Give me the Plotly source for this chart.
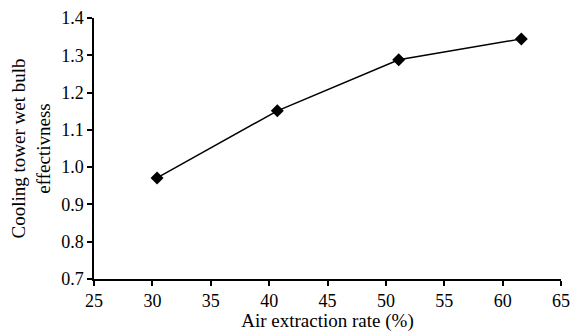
import plotly.graph_objects as go

extraction_rate = [30.4, 40.7, 51.1, 61.6]
effectiveness = [0.971, 1.151, 1.288, 1.344]
x_ticks = [25, 30, 35, 40, 45, 50, 55, 60, 65]
y_ticks = [0.7, 0.8, 0.9, 1.0, 1.1, 1.2, 1.3, 1.4]

font_family = "Liberation Serif, Times New Roman, serif"

fig = go.Figure()
fig.add_trace(go.Scatter(
    x=extraction_rate, y=effectiveness, mode="lines+markers",
    line=dict(color="black", width=1.5),
    marker=dict(symbol="diamond", size=10, color="black"),
    showlegend=False,
))

# page body has an 8px default margin, so the figure is sized to fit inside the window
fig.update_layout(
    width=576, height=324,
    margin=dict(l=86, r=23, t=10, b=53),
    paper_bgcolor="white", plot_bgcolor="white",
    font=dict(family=font_family, size=18, color="black"),
    xaxis=dict(
        range=[25, 65], tickvals=x_ticks, ticktext=[str(v) for v in x_ticks],
        showline=True, linecolor="black", linewidth=1.5,
        ticks="outside", ticklen=5, tickwidth=1.5, tickcolor="black",
        showgrid=False, zeroline=False, automargin=False, ticklabeloverflow="allow",
        tickfont=dict(size=18),
        title=dict(text="Air extraction rate (%)", standoff=0, font=dict(size=19)),
    ),
    yaxis=dict(
        range=[0.7, 1.4], tickvals=y_ticks, ticktext=[f"{v:.1f}" for v in y_ticks],
        showline=True, linecolor="black", linewidth=1.5,
        ticks="outside", ticklen=5, tickwidth=1.5, tickcolor="black",
        showgrid=False, zeroline=False, automargin=False, ticklabeloverflow="allow",
        tickfont=dict(size=18),
        title=dict(text="Cooling tower wet bulb<br>effectivness", standoff=12, font=dict(size=19)),
    ),
)

fig.write_html("out.html")
